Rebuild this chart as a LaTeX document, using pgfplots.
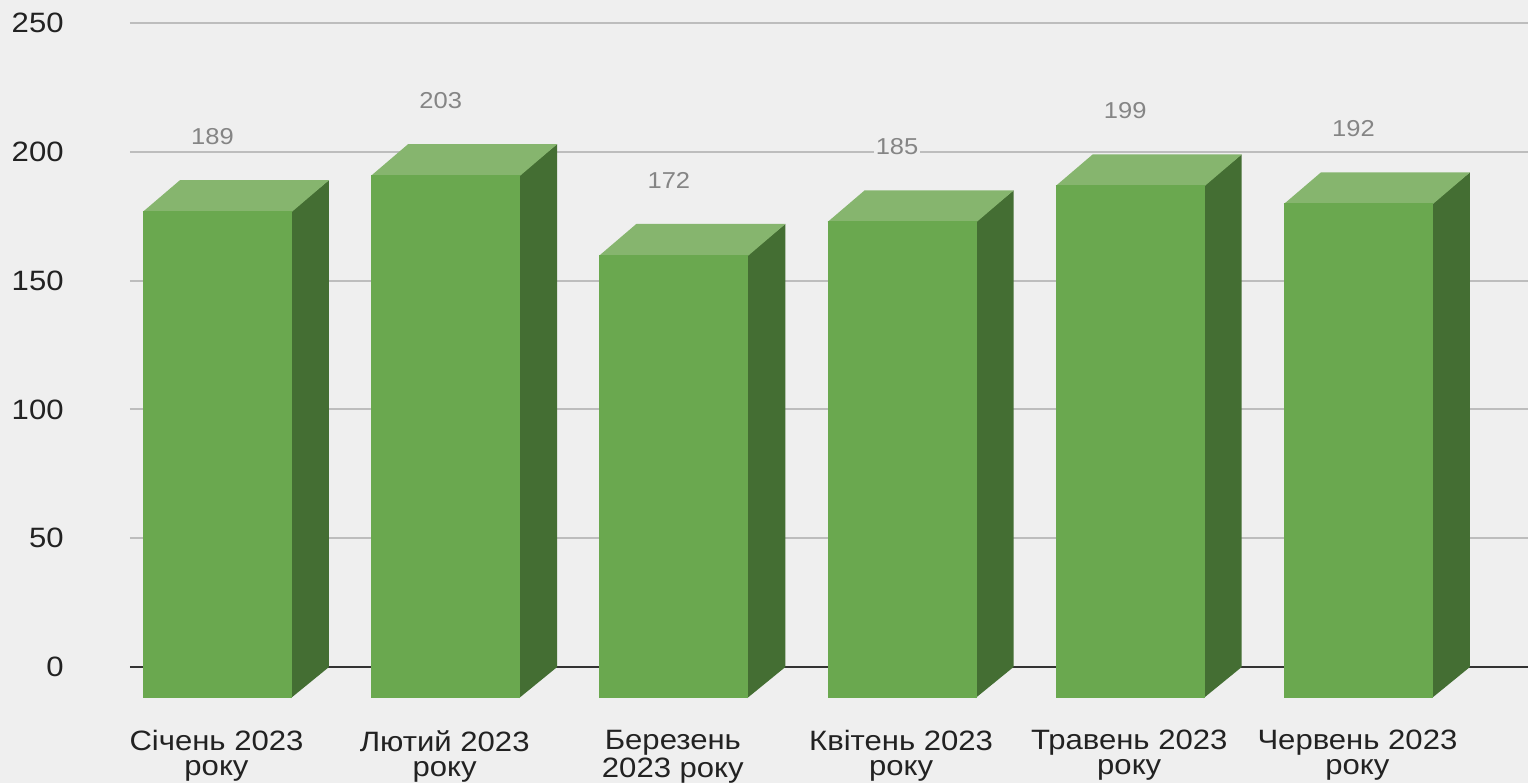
\documentclass[border=0pt]{standalone}
\usepackage{pgfplots}
\usepackage{pgfplotstable}
\pgfplotsset{compat=1.18}
\usepackage{fontspec}
\setmainfont{Liberation Sans}[FakeStretch=1.11]

\definecolor{bg}{HTML}{EFEFEF}
\definecolor{barfront}{HTML}{6AA84F}
\definecolor{bartop}{HTML}{86B56E}
\definecolor{barside}{HTML}{446E33}
\definecolor{gridgray}{HTML}{BDBDBD}
\definecolor{zeroline}{HTML}{333333}
\definecolor{ticktext}{HTML}{222222}
\definecolor{valtext}{HTML}{858585}

\pgfplotstableread{
x y
0 189
1 203
2 172
3 185
4 199
5 192
}\monthdata

% one 3D bar per data point: origin = back top centre,
% front face shifted by (-18.5pt,-15.5pt); 1.288pt per y unit
\pgfdeclareplotmark{bar3d}{%
  \pgfmathsetlengthmacro\barh{\barval*1.288pt}%
  \pgfsetfillcolor{barside}%
  \pgfpathmoveto{\pgfpoint{18.25pt}{-15.5pt}}%
  \pgfpathlineto{\pgfpoint{37.25pt}{0pt}}%
  \pgfpathlineto{\pgfpoint{37.25pt}{-\barh}}%
  \pgfpathlineto{\pgfpoint{18.25pt}{-\barh-15.5pt}}%
  \pgfpathclose
  \pgfusepath{fill}%
  \pgfsetfillcolor{bartop}%
  \pgfpathmoveto{\pgfpoint{-55.75pt}{-15.8pt}}%
  \pgfpathlineto{\pgfpoint{18.75pt}{-15.8pt}}%
  \pgfpathlineto{\pgfpoint{37.25pt}{0pt}}%
  \pgfpathlineto{\pgfpoint{-37.25pt}{0pt}}%
  \pgfpathclose
  \pgfusepath{fill}%
  \pgfsetfillcolor{barfront}%
  \pgfpathrectanglecorners{\pgfpoint{-55.75pt}{-\barh-15.5pt}}{\pgfpoint{18.75pt}{-15.5pt}}%
  \pgfusepath{fill}%
}

\begin{document}
\begin{tikzpicture}
\useasboundingbox (0,0) rectangle (764pt,391.5pt);
\fill[bg] (0,0) rectangle (764pt,391.5pt);
\begin{axis}[
  at={(65pt,58pt)}, anchor=south west,
  scale only axis, width=699pt, height=322pt,
  xmin=-0.5456, xmax=5.581, ymin=0, ymax=250,
  clip=false,
  /pgf/number format/assume math mode=true,
  axis line style={draw=none},
  tick style={draw=none},
  ytick={50,100,150,200,250},
  extra y ticks={0},
  extra y tick style={grid style={draw=zeroline, line width=1pt}},
  ymajorgrids,
  grid style={draw=gridgray, line width=1pt},
  yticklabel style={anchor=east, inner sep=0pt, xshift=-33pt,
    font=\fontsize{14}{14}\selectfont, text=ticktext},
  xtick={0,...,5},
  xticklabels={{Січень 2023\\року},{Лютий 2023\\року},{Березень\\2023 року},
    {Квітень 2023\\року},{Травень 2023\\року},{Червень 2023\\року}},
  xticklabel style={align=center, anchor=north, inner sep=0pt,
    xshift=-19pt, yshift=-31.5pt,
    font=\fontsize{14}{12.5}\selectfont, text=ticktext},
]
\addplot[
  scatter, only marks, mark=bar3d,
  visualization depends on={rawy \as \barval},
  point meta=explicit,
  nodes near coords,
  every node near coord/.append style={xshift=-21pt,
    yshift=16.5pt, fill=bg, inner sep=1pt, text=valtext,
    font=\fontsize{11.5}{12}\selectfont},
] table[x=x, y=y, meta=y] {\monthdata};
\end{axis}
\end{tikzpicture}
\end{document}
